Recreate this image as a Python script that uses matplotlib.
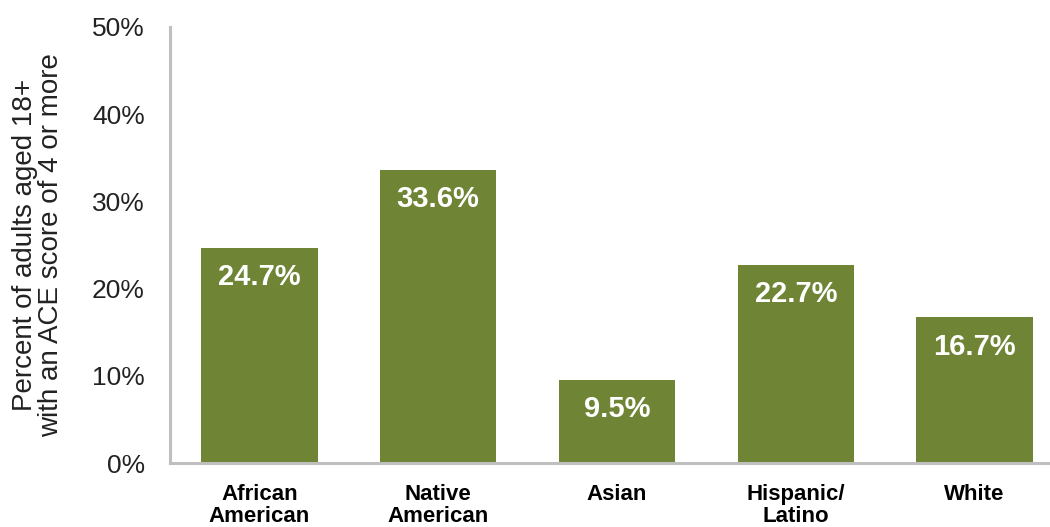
import matplotlib
matplotlib.use("Agg")
import matplotlib.pyplot as plt
from matplotlib.ticker import FuncFormatter

categories = ["African\nAmerican", "Native\nAmerican", "Asian", "Hispanic/\nLatino", "White"]
values = [24.7, 33.6, 9.5, 22.7, 16.7]
yticks = [0, 10, 20, 30, 40, 50]

plt.rcParams["font.family"] = ["Liberation Sans", "DejaVu Sans"]

fig = plt.figure(figsize=(10.5, 5.27), dpi=100)
ax = fig.add_axes([0.1619, 0.1214, 0.8514, 0.8274])

x = range(len(categories))
bars = ax.bar(x, values, width=0.65, color="#6F8535")

for xi, v in zip(x, values):
    ax.annotate(f"{v:.1f}%", (xi, v), xytext=(0, -21), textcoords="offset points",
                ha="center", va="center", color="white", fontsize=21, fontweight="bold")

ax.set_xlim(-0.5, 4.5)
ax.set_ylim(0, 50)
ax.set_yticks(yticks)
ax.yaxis.set_major_formatter(FuncFormatter(lambda v, p: f"{v:.0f}%"))
ax.set_xticks(list(x))
ax.set_xticklabels(categories, fontsize=16, fontweight="bold", linespacing=1.1)
ax.tick_params(axis="y", length=0, pad=18, labelsize=19, labelcolor="#222222")
ax.tick_params(axis="x", length=0, pad=15)

for side in ("top", "right"):
    ax.spines[side].set_visible(False)
for side in ("left", "bottom"):
    ax.spines[side].set_color("#BFBFBF")
    ax.spines[side].set_linewidth(2.2)

ax.set_ylabel("Percent of adults aged 18+\nwith an ACE score of 4 or more",
              fontsize=20, linespacing=1.0, color="#222222", labelpad=20)

fig.savefig("out.png", dpi=100)
